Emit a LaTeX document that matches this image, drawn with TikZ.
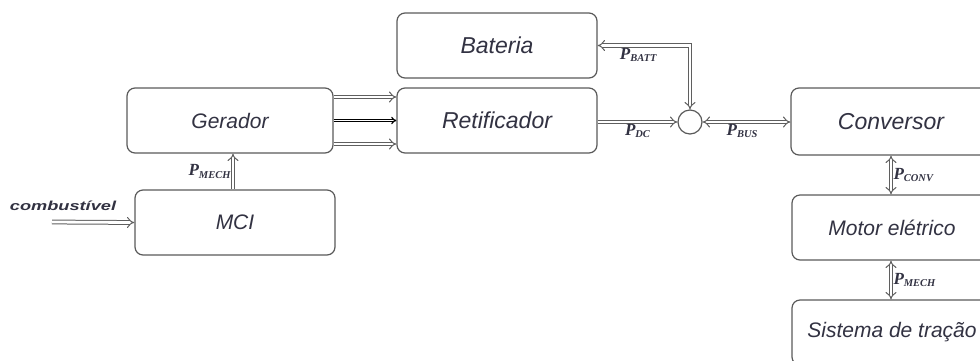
\documentclass[tikz,border=0pt]{standalone}
\usepackage{graphicx}
\usepackage{fontspec}
\setmainfont{Liberation Sans}
\newfontfamily\serifp{Liberation Serif}
\usetikzlibrary{arrows.meta}
\definecolor{frame}{RGB}{90, 90, 90}
\definecolor{txt}{RGB}{50, 50, 66}
\definecolor{pipe}{RGB}{95, 95, 95}
\newcommand{\pwr}[1]{{\serifp\bfseries\itshape\fontsize{17}{17}\selectfont P\raisebox{-0.3ex}{\fontsize{10.5}{10.5}\selectfont #1}}}

\begin{document}
\begin{tikzpicture}[x=1pt, y=-1pt]
    \tikzstyle{block} = [rectangle, draw=frame, line width=1.2pt, fill=white,
    text=txt, text centered, rounded corners=8pt, minimum width=200pt, minimum height=65pt,
    font=\itshape\fontsize{21}{21}\selectfont];
    \tikzstyle{big} = [font=\itshape\fontsize{23}{23}\selectfont];
    \tikzstyle{pipe} = [draw=pipe, line width=1pt, double=white, double distance=2.8pt, -{Implies[scale=1.3]}];
    \tikzstyle{both} = [pipe, {Implies[scale=1.3]}-{Implies[scale=1.3]}];
    \tikzstyle{lab} = [text=txt, inner sep=2pt];
    \useasboundingbox (0,0) rectangle (980,360);
    % Row 1
    \node [block, big] (bat) at (497,45.5) {Bateria};
    % Row 2
    \node [block, minimum width=206pt] (ger) at (230,120.5) {Gerador};
    \node [block, big] (ret) at (497,120.5) {Retificador};
    \node [circle, draw=frame, line width=1.2pt, fill=white, minimum size=24pt, inner sep=0pt] (sum) at (690,122) {};
    \node [block, big, minimum height=67pt] (conv) at (891,121.5) {Conversor};
    % Row 3
    \node [block] (mci) at (235,222.5) {MCI};
    \node [block] (mot) at (892,227.5) {Motor elétrico};
    % Row 4
    \node [block] (trac) at (892,332.5) {Sistema de tração};
    \coordinate (fuel) at (52,222);
    \node [text=txt, font=\bfseries\itshape\fontsize{13}{13}\selectfont] (comb) at (63,206)
      {\scalebox{1.4}[1]{combustível}};

    % % Drawing the links
    \draw [pipe] (fuel) -- (mci.west);
    \draw [pipe] (mci.north -| 233,0) -- node[lab, left]{\pwr{MECH}} (ger.south -| 233,0);
    \draw [pipe] ([yshift=23.5pt]ger.east) -- ([yshift=23.5pt]ret.west);
    \draw [pipe, draw=black, line width=1.2pt, double distance=1.2pt] (ger.east) -- (ret.west);
    \draw [pipe] ([yshift=-23.5pt]ger.east) -- ([yshift=-23.5pt]ret.west);
    \draw [pipe] (ret.east |- sum) -- node[lab, below]{\pwr{DC}} (sum.west);
    \draw [both] (sum.north) |- node[lab, below, pos=0.78]{\pwr{BATT}} (bat.east);
    \draw [both] (sum.east) -- node[lab, below, pos=0.45]{\pwr{BUS}} (conv.west |- sum);
    \draw [both] (conv.south -| 891,0) -- node[lab, right]{\pwr{CONV}} (mot.north -| 891,0);
    \draw [both] (mot.south -| 891,0) -- node[lab, right]{\pwr{MECH}} (trac.north -| 891,0);
\end{tikzpicture}
\end{document}
